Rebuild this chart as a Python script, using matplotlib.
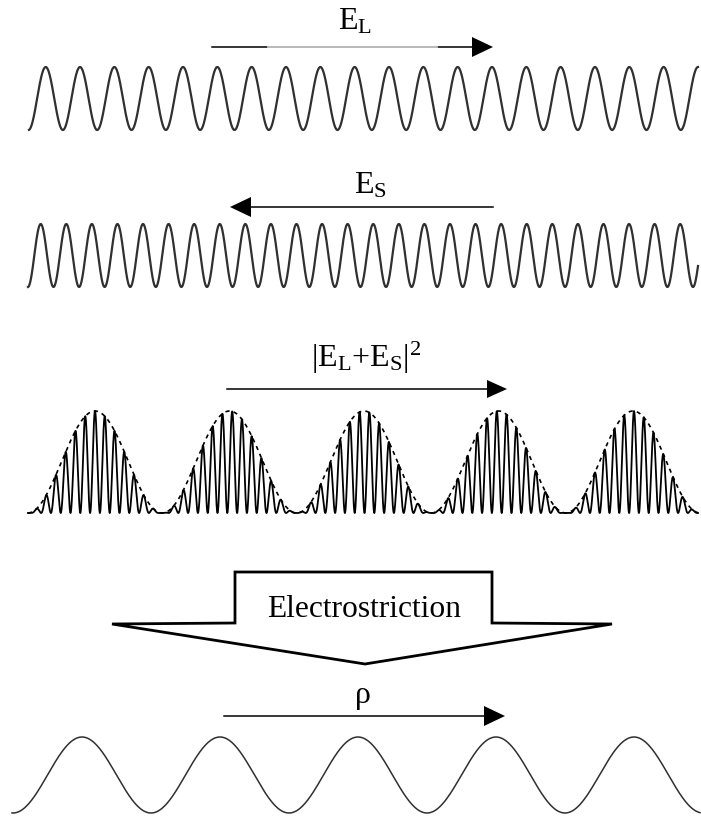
import numpy as np
import matplotlib.pyplot as plt
from matplotlib.patches import Polygon

plt.rcParams['mathtext.fontset'] = 'custom'
plt.rcParams['mathtext.rm'] = 'Liberation Serif'
plt.rcParams['mathtext.it'] = 'Liberation Serif:italic'

# wave parameters (pixel units, y grows downward)
# name: (x_start, x_end, first_peak_x, period, top_y, bottom_y)
wave_el = (29, 698, 45.7, 34.33, 67, 130)
wave_es = (28, 698, 40.7, 25.58, 224, 287)
wave_rho = (12, 700, 82.0, 138.0, 737, 813)
# beat pattern: envelope and carrier
beat_span = (28, 698)
beat_env_peak = 95.0
beat_env_period = 134.5
beat_carrier_period = 9.8
beat_top = 411
beat_base = 513

# arrows: (x_from, x_to, y)
arrow_el = (212, 493, 47)
arrow_es = (493, 230, 207)
arrow_sum = (227, 507, 389)
arrow_rho = (224, 505, 716)

labels = ['E$_\\mathrm{L}$', 'E$_\\mathrm{S}$',
          '|E$_\\mathrm{L}$+E$_\\mathrm{S}$|$^\\mathrm{2}$', 'ρ']
label_pos = [(355, 30), (370, 193), (366, 367), (363, 703)]

big_arrow = [(235, 572), (492, 572), (492, 623), (612, 624),
             (365, 664), (112, 624), (235, 623)]


def sine_wave(spec, lw, color):
    x0, x1, xp, per, top, bot = spec
    x = np.linspace(x0, x1, 3000)
    c = (top + bot) / 2
    a = (bot - top) / 2
    y = c - a * np.cos(2 * np.pi * (x - xp) / per)
    ax.plot(x, y, color=color, lw=lw, solid_joinstyle='round')


def arrow(spec, hl=21, hw=20):
    xa, xb, y = spec
    d = 1 if xb > xa else -1
    ax.plot([xa, xb - d * hl], [y, y], color='black', lw=1.1)
    ax.add_patch(Polygon([(xb, y), (xb - d * hl, y - hw / 2), (xb - d * hl, y + hw / 2)],
                         closed=True, color='black', lw=0))


fig = plt.figure(figsize=(7.01, 8.19), dpi=100)
ax = fig.add_axes([0, 0, 1, 1])
ax.set_xlim(0, 701)
ax.set_ylim(819, 0)
ax.axis('off')

sine_wave(wave_el, 1.6, '#303030')
sine_wave(wave_es, 1.6, '#303030')
sine_wave(wave_rho, 1.1, '#303030')

# beat pattern
xb = np.linspace(beat_span[0], beat_span[1], 8000)
env = np.cos(np.pi * (xb - beat_env_peak) / beat_env_period) ** 2
carrier = np.cos(np.pi * (xb - beat_env_peak) / beat_carrier_period) ** 2
h = beat_base - beat_top
ax.plot(xb, beat_base - h * env * carrier, color='black', lw=1.3)
ax.plot(xb, beat_base - h * env, color='black', lw=1.2, ls=(0, (2.5, 2.5)))

arrow(arrow_el)
# the light middle part of the E_L arrow
ax.plot([268, 437], [arrow_el[2], arrow_el[2]], color='#c8c8c8', lw=1.3)
arrow(arrow_es)
arrow(arrow_sum, hl=20, hw=18)
arrow(arrow_rho)

for txt, (x, y) in zip(labels, label_pos):
    ax.text(x, y, txt, fontsize=23, family='Liberation Serif',
            ha='center', va='baseline')

ax.add_patch(Polygon(big_arrow, closed=True, facecolor='white',
                     edgecolor='black', lw=2.0, joinstyle='miter'))
ax.text(364, 617, 'Electrostriction', fontsize=22.7, family='Liberation Serif',
        ha='center', va='baseline')

fig.savefig('out.png', dpi=100)
